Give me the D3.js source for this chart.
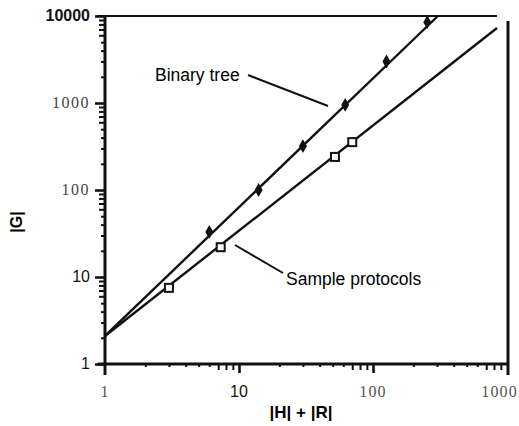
<!DOCTYPE html>
<meta charset="utf-8">
<style>
body { margin: 0; background: #fff; }
.fit { fill: none; stroke: #111; stroke-width: 2.4px; }
.sans { font-family: "Liberation Sans", Arial, sans-serif; }
.serif { font-family: "Liberation Serif", "Times New Roman", serif; }
.tk .domain { display: none; }
</style>
<body>
<script src="https://d3js.org/d3.v7.min.js"></script>
<script>

// data
var binaryX = [6, 14, 30, 62, 126, 254];
var binaryY = [33, 100, 320, 950, 3000, 8500];
var sampleX = [3, 7.3, 52, 70];
var sampleY = [7.5, 22, 240, 355];
// fitted lines (start and end points)
var binaryFit = [[1, 2.1], [305, 10000]];
var sampleFit = [[1, 2.1], [842, 7280]];

var xTicks = [1, 10, 100, 1000];
var yTicks = [1, 10, 100, 1000, 10000];
var xMinor = [2, 3, 4, 5, 6, 20, 30, 40, 50, 60, 200, 300, 400, 500, 600];
var xMinorLong = [7, 8, 9, 70, 80, 90, 700, 800, 900];
var yMinor = [2, 3, 4, 5, 20, 30, 40, 50, 200, 300, 400, 500, 2000, 3000, 4000, 5000];
var yMinorLong = [6, 7, 8, 9, 60, 70, 80, 90, 600, 700, 800, 900, 6000, 7000, 8000, 9000];
// the scanned labels use mixed type faces
var xTickFont = ["serif", "sans", "serif", "serif"];
var yTickFont = ["sans", "sans", "serif", "serif", "sans"];

var svg = d3.select("body").append("svg")
    .attr("width", 519)
    .attr("height", 426);

var x = d3.scaleLog().domain([1, 1000]).range([105, 507]);
var y = d3.scaleLog().domain([1, 10000]).range([364, 16]);

// frame: top line and right line
svg.append("line").attr("x1", 97).attr("x2", 497).attr("y1", y(10000)).attr("y2", y(10000))
    .attr("stroke", "#111").attr("stroke-width", 2);
svg.append("line").attr("x1", x(1000) + 1).attr("x2", x(1000) + 1).attr("y1", 21).attr("y2", 375)
    .attr("stroke", "#111").attr("stroke-width", 3);

// tick marks via d3 axes (no labels)
function drawTicks(axis, vals, size, w, tr) {
  svg.append("g").attr("class", "tk")
      .attr("transform", tr)
      .call(axis.tickValues(vals).tickSize(size).tickFormat(""))
      .selectAll("line")
        .attr("stroke", "#111")
        .attr("stroke-width", w);
}
var left = "translate(" + x(1) + ",0)";
var bottom = "translate(0," + y(1) + ")";
drawTicks(d3.axisLeft(y), yMinor, 4, 2, left);
drawTicks(d3.axisLeft(y), yMinorLong, 6, 2, left);
drawTicks(d3.axisLeft(y), yTicks, 10, 2.6, left);
drawTicks(d3.axisBottom(x), xMinor, 3, 2, bottom);
drawTicks(d3.axisBottom(x), xMinorLong, 6, 2, bottom);
drawTicks(d3.axisBottom(x), [10, 100], 9, 2.6, bottom);

// left axis
svg.append("line").attr("x1", x(1)).attr("x2", x(1)).attr("y1", y(10000)).attr("y2", 375)
    .attr("stroke", "#111").attr("stroke-width", 3);
// bottom axis
svg.append("line").attr("x1", 98).attr("x2", x(1000) + 2).attr("y1", y(1)).attr("y2", y(1))
    .attr("stroke", "#111").attr("stroke-width", 3);

// tick labels
svg.selectAll(".ylab").data(yTicks).enter().append("text")
    .attr("class", function(d, i) { return yTickFont[i]; })
    .attr("x", x(1) - 15)
    .attr("y", function(d) { return y(d) + 5; })
    .attr("text-anchor", "end")
    .attr("font-size", 16)
    .attr("font-weight", function(d) { return d == 10000 ? "bold" : "normal"; })
    .attr("letter-spacing", function(d, i) { return yTickFont[i] == "serif" ? 1.5 : 0; })
    .attr("fill", function(d, i) { return yTickFont[i] == "serif" ? "#444" : "#111"; })
    .text(function(d) { return d; });

svg.selectAll(".xlab").data(xTicks).enter().append("text")
    .attr("class", function(d, i) { return xTickFont[i]; })
    .attr("x", function(d) { return d == 1000 ? 518 : x(d); })
    .attr("y", 397)
    .attr("text-anchor", function(d) { return d == 1000 ? "end" : "middle"; })
    .attr("font-size", 16)
    .attr("letter-spacing", function(d, i) { return xTickFont[i] == "serif" ? 1.2 : 0; })
    .attr("fill", function(d, i) { return xTickFont[i] == "serif" ? "#555" : "#111"; })
    .text(function(d) { return d; });

// axis titles
svg.append("text").attr("class", "sans")
    .attr("transform", "translate(22,222) rotate(-90)")
    .attr("text-anchor", "middle")
    .attr("font-size", 16).attr("font-weight", "bold")
    .text("|G|");

svg.append("text").attr("class", "sans")
    .attr("x", 301).attr("y", 418)
    .attr("text-anchor", "middle")
    .attr("font-size", 17).attr("font-weight", "bold")
    .text("|H| + |R|");

// fitted lines
var line = d3.line()
    .x(function(d) { return x(d[0]); })
    .y(function(d) { return y(d[1]); });

svg.append("path").datum(binaryFit).attr("class", "fit").attr("d", line);
svg.append("path").datum(sampleFit).attr("class", "fit").attr("d", line);

// binary tree points
svg.selectAll(".bt").data(binaryX).enter().append("path")
    .attr("transform", function(d, i) { return "translate(" + x(d) + "," + y(binaryY[i]) + ")"; })
    .attr("d", d3.symbol().type(d3.symbolDiamond).size(55))
    .attr("fill", "#111");

// sample protocol points
svg.selectAll(".sp").data(sampleX).enter().append("rect")
    .attr("x", function(d) { return x(d) - 4; })
    .attr("y", function(d, i) { return y(sampleY[i]) - 4; })
    .attr("width", 8).attr("height", 8)
    .attr("fill", "#fff").attr("stroke", "#111").attr("stroke-width", 2);

// annotations
svg.append("text").attr("class", "sans")
    .attr("x", 155).attr("y", 81)
    .attr("font-size", 17.5)
    .text("Binary tree");
svg.append("line").attr("x1", 248).attr("y1", 75).attr("x2", 328).attr("y2", 106)
    .attr("stroke", "#111").attr("stroke-width", 2);

svg.append("text").attr("class", "sans")
    .attr("x", 286).attr("y", 285)
    .attr("font-size", 17.5)
    .text("Sample protocols");
svg.append("line").attr("x1", 235).attr("y1", 245).attr("x2", 283).attr("y2", 273)
    .attr("stroke", "#111").attr("stroke-width", 2);

</script>
</body>
